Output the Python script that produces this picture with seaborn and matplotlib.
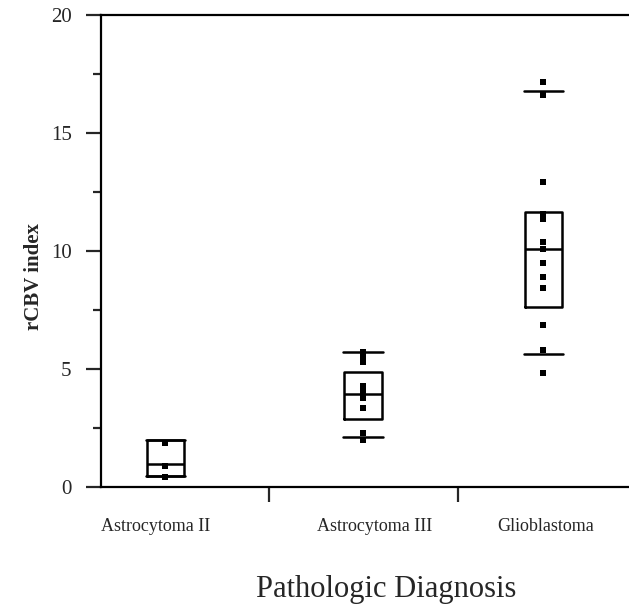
import matplotlib
matplotlib.use("Agg")
import matplotlib.pyplot as plt
import seaborn as sns
import pandas as pd
import numpy as np

# =============================================================================
# DATA
# =============================================================================

GROUPS = ['Astrocytoma II', 'Astrocytoma III', 'Glioblastoma']

# individual rCBV values per group
ASTRO2_VALUES = [1.9, 0.9, 0.45]
ASTRO3_VALUES = [5.75, 5.5, 5.3, 4.3, 4.05, 3.8, 3.35, 2.3, 2.0]
GBM_VALUES = [17.15, 16.6, 12.9, 11.55, 11.35, 10.4, 10.1, 9.5, 8.9, 8.45,
              6.85, 5.8, 4.85]

# box summaries: lower mark, q1, median, q3, upper mark
LOW_MARK = [0.5, 2.12, 5.65]
Q1 = [0.5, 2.9, 7.62]
MEDIAN = [1.0, 3.95, 10.1]
Q3 = [2.0, 4.87, 11.65]
HIGH_MARK = [2.0, 5.74, 16.78]

Y_TICKS = [0, 5, 10, 15, 20]
Y_MINOR = [2.5, 7.5, 12.5, 17.5]

# layout of the categorical axis
POSITIONS = [1.0, 2.0, 2.914]
LABEL_POS = [0.952, 2.06, 2.927]
DIVIDERS = [1.524, 2.481]

# =============================================================================
# PLOT
# =============================================================================

sns.set_theme(style="ticks")
plt.rcParams['font.family'] = ['Liberation Serif', 'DejaVu Serif']

fig = plt.figure(figsize=(6.29, 6.07), dpi=100)
ax = fig.add_axes([0.1598, 0.1969, 0.8402, 0.7792])

values = [ASTRO2_VALUES, ASTRO3_VALUES, GBM_VALUES]
df = pd.DataFrame({
    'group': np.repeat(GROUPS, [len(v) for v in values]),
    'rcbv': np.concatenate(values),
})
df['x'] = df['group'].map(dict(zip(GROUPS, POSITIONS)))

stats = []
for i, g in enumerate(GROUPS):
    stats.append({'label': g, 'whislo': LOW_MARK[i], 'q1': Q1[i], 'med': MEDIAN[i],
                  'q3': Q3[i], 'whishi': HIGH_MARK[i], 'fliers': []})

lw = 1.8
ax.bxp(stats, positions=POSITIONS, widths=0.19, capwidths=0.2,
       showfliers=False, manage_ticks=False,
       boxprops=dict(color='black', linewidth=lw),
       medianprops=dict(color='black', linewidth=lw),
       whiskerprops=dict(linewidth=0),
       capprops=dict(color='black', linewidth=lw))

sns.scatterplot(data=df, x='x', y='rcbv', marker='s', s=14, color='black',
                linewidth=0, ax=ax, zorder=5, legend=False)

ax.set_xlim(0.671, 3.347)
ax.set_ylim(0, 20)

ax.set_yticks(Y_TICKS)
ax.set_yticks(Y_MINOR, minor=True)
ax.set_yticklabels([str(t) for t in Y_TICKS], fontsize=15)
ax.tick_params(axis='y', which='major', length=10.8, width=1.6, pad=10, direction='out')
ax.tick_params(axis='y', which='minor', length=5.8, width=1.6, direction='out')

ax.set_xticks(LABEL_POS)
ax.set_xticklabels(GROUPS, fontsize=13)
ax.set_xticks(DIVIDERS, minor=True)
ax.tick_params(axis='x', which='major', length=0, pad=22)
ax.tick_params(axis='x', which='minor', length=10.8, width=1.6, direction='out')

for side in ['left', 'bottom', 'top']:
    ax.spines[side].set_linewidth(1.6)
    ax.spines[side].set_color('black')
ax.spines['right'].set_visible(False)

ax.set_xlabel('')
ax.set_ylabel('')
fig.text(34 / 629, 1 - 276 / 607, 'rCBV index', rotation=90, fontsize=15,
         fontweight='bold', ha='center', va='center')
fig.text(386 / 629, 1 - 590 / 607, 'Pathologic Diagnosis', fontsize=22,
         ha='center', va='center')

fig.savefig('out.png', dpi=100)
